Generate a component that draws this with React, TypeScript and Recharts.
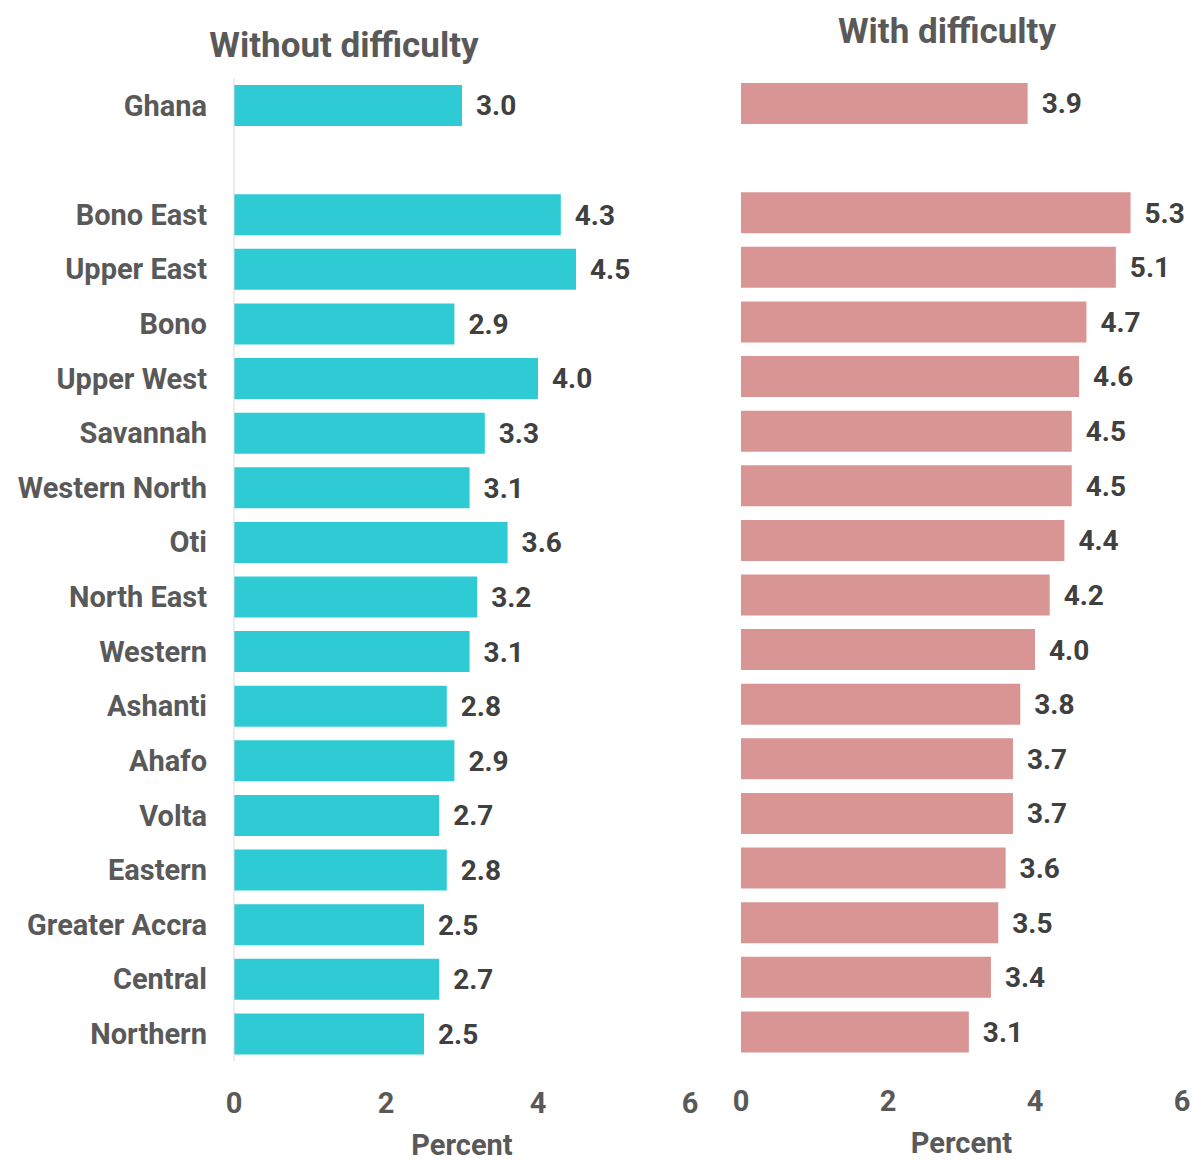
import { BarChart, Bar, XAxis, YAxis, LabelList } from 'recharts'

const regions = [
  'Ghana',
  ' ',
  'Bono East',
  'Upper East',
  'Bono',
  'Upper West',
  'Savannah',
  'Western North',
  'Oti',
  'North East',
  'Western',
  'Ashanti',
  'Ahafo',
  'Volta',
  'Eastern',
  'Greater Accra',
  'Central',
  'Northern',
]

const withoutDifficulty = [3.0, null, 4.3, 4.5, 2.9, 4.0, 3.3, 3.1, 3.6, 3.2, 3.1, 2.8, 2.9, 2.7, 2.8, 2.5, 2.7, 2.5]
const withDifficulty = [3.9, null, 5.3, 5.1, 4.7, 4.6, 4.5, 4.5, 4.4, 4.2, 4.0, 3.8, 3.7, 3.7, 3.6, 3.5, 3.4, 3.1]

const xTicks = [0, 2, 4, 6]

const data = regions.map((name, i) => ({
  name,
  without: withoutDifficulty[i],
  with: withDifficulty[i],
}))

const FONT = 'Roboto, "Noto Sans", sans-serif'
const labelGray = '#595959'
const valueGray = '#404040'

const fmt = (v: any) => (v == null ? '' : Number(v).toFixed(1))

const titleStyle: React.CSSProperties = {
  position: 'absolute',
  fontFamily: FONT,
  fontWeight: 700,
  fontSize: 35,
  color: labelGray,
  whiteSpace: 'nowrap',
  transform: 'translateX(-50%)',
  lineHeight: 1,
}

export default function App() {
  return (
    <div
      style={{
        position: 'absolute',
        left: 0,
        top: 0,
        width: 1192,
        height: 1162,
        overflow: 'hidden',
        background: '#fff',
      }}
    >
      <div style={{ ...titleStyle, left: 344, top: 28 }}>Without difficulty</div>
      <div style={{ ...titleStyle, left: 947, top: 14 }}>With difficulty</div>

      <div style={{ position: 'absolute', left: 0, top: 0 }}>
        <BarChart
          width={700}
          height={1162}
          data={data}
          layout="vertical"
          margin={{ top: 78, right: 10, left: 0, bottom: 0 }}
        >
          <XAxis
            type="number"
            domain={[0, 6]}
            ticks={xTicks}
            axisLine={false}
            tickLine={false}
            tickMargin={25}
            height={101}
            tick={{ fill: labelGray, fontSize: 29, fontWeight: 700, fontFamily: FONT }}
            label={{
              value: 'Percent',
              position: 'insideBottom',
              offset: 7,
              fill: labelGray,
              fontSize: 29,
              fontWeight: 700,
              fontFamily: FONT,
            }}
          />
          <YAxis
            type="category"
            dataKey="name"
            width={234}
            interval={0}
            axisLine={{ stroke: '#d9d9d9' }}
            tickLine={false}
            tickMargin={21}
            tick={{ fill: labelGray, fontSize: 29, fontWeight: 700, fontFamily: FONT }}
          />
          <Bar dataKey="without" fill="#2fcbd4" barSize={41} isAnimationActive={false}>
            <LabelList
              dataKey="without"
              position="right"
              offset={14}
              formatter={fmt}
              fill={valueGray}
              fontSize={28}
              fontWeight={700}
              fontFamily={FONT}
            />
          </Bar>
        </BarChart>
      </div>

      <div style={{ position: 'absolute', left: 700, top: 0 }}>
        <BarChart
          width={492}
          height={1162}
          data={data}
          layout="vertical"
          margin={{ top: 76, right: 10, left: 41, bottom: 0 }}
        >
          <XAxis
            type="number"
            domain={[0, 6]}
            ticks={xTicks}
            axisLine={false}
            tickLine={false}
            tickMargin={25}
            height={103}
            tick={{ fill: labelGray, fontSize: 29, fontWeight: 700, fontFamily: FONT }}
            label={{
              value: 'Percent',
              position: 'insideBottom',
              offset: 9,
              fill: labelGray,
              fontSize: 29,
              fontWeight: 700,
              fontFamily: FONT,
            }}
          />
          <YAxis
            type="category"
            dataKey="name"
            width={0}
            interval={0}
            axisLine={{ stroke: '#d9d9d9' }}
            tickLine={false}
            tick={false}
          />
          <Bar dataKey="with" fill="#d99594" barSize={41} isAnimationActive={false}>
            <LabelList
              dataKey="with"
              position="right"
              offset={14}
              formatter={fmt}
              fill={valueGray}
              fontSize={28}
              fontWeight={700}
              fontFamily={FONT}
            />
          </Bar>
        </BarChart>
      </div>
    </div>
  )
}
